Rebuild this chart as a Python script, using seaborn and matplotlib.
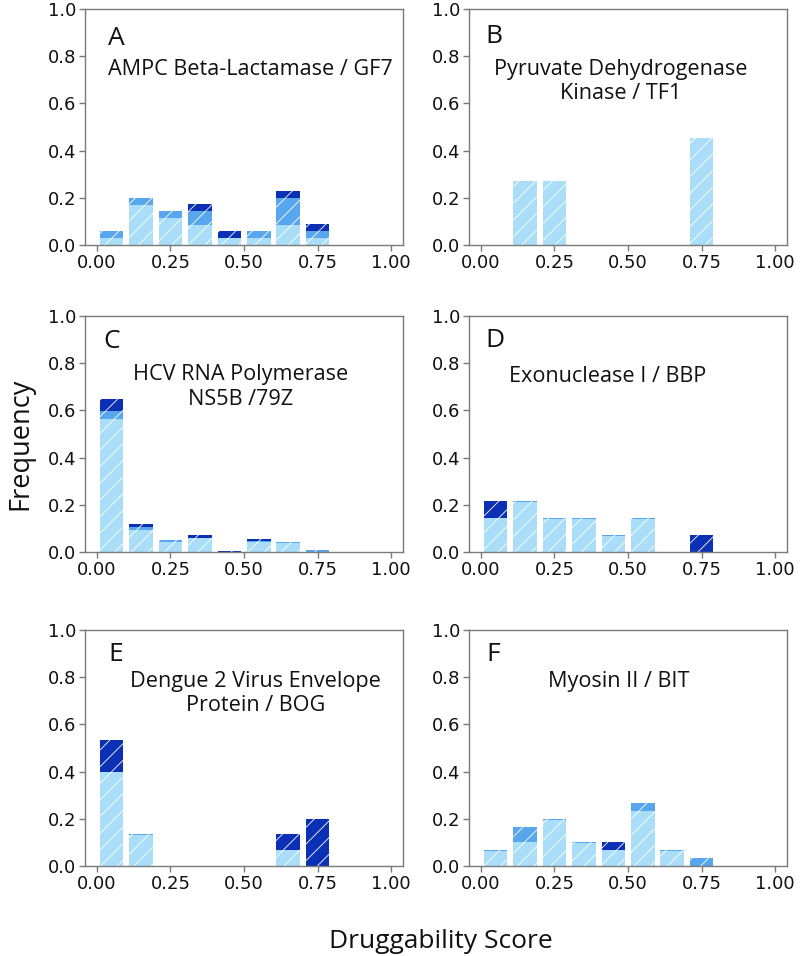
import numpy as np
import pandas as pd
import matplotlib
matplotlib.use("Agg")
import matplotlib.pyplot as plt
import seaborn as sns

# ---------------- data ----------------
bin_centers = [0.05, 0.15, 0.25, 0.35, 0.45, 0.55, 0.65, 0.75]

A_light = [0.029, 0.171, 0.114, 0.086, 0.029, 0.029, 0.086, 0.029]
A_mid   = [0.029, 0.029, 0.029, 0.057, 0.000, 0.029, 0.114, 0.029]
A_dark  = [0.000, 0.000, 0.000, 0.029, 0.029, 0.000, 0.029, 0.029]

B_light = [0.000, 0.273, 0.273, 0.000, 0.000, 0.000, 0.000, 0.455]
B_mid   = [0.000, 0.000, 0.000, 0.000, 0.000, 0.000, 0.000, 0.000]
B_dark  = [0.000, 0.000, 0.000, 0.000, 0.000, 0.000, 0.000, 0.000]

C_light = [0.562, 0.094, 0.043, 0.060, 0.000, 0.044, 0.037, 0.000]
C_mid   = [0.036, 0.012, 0.006, 0.000, 0.000, 0.004, 0.004, 0.007]
C_dark  = [0.049, 0.012, 0.000, 0.010, 0.006, 0.007, 0.000, 0.000]

D_light = [0.143, 0.211, 0.140, 0.140, 0.068, 0.140, 0.000, 0.000]
D_mid   = [0.000, 0.004, 0.004, 0.004, 0.004, 0.004, 0.000, 0.000]
D_dark  = [0.071, 0.000, 0.000, 0.000, 0.000, 0.000, 0.000, 0.071]

E_light = [0.400, 0.130, 0.000, 0.000, 0.000, 0.000, 0.067, 0.000]
E_mid   = [0.000, 0.004, 0.000, 0.000, 0.000, 0.000, 0.000, 0.000]
E_dark  = [0.133, 0.000, 0.000, 0.000, 0.000, 0.000, 0.067, 0.200]

F_light = [0.064, 0.100, 0.197, 0.097, 0.067, 0.233, 0.064, 0.000]
F_mid   = [0.004, 0.067, 0.004, 0.004, 0.000, 0.033, 0.004, 0.033]
F_dark  = [0.000, 0.000, 0.000, 0.000, 0.033, 0.000, 0.000, 0.000]

panel_letters = ["A", "B", "C", "D", "E", "F"]
panel_titles = [
    "AMPC Beta-Lactamase / GF7",
    "Pyruvate Dehydrogenase\nKinase / TF1",
    "HCV RNA Polymerase\nNS5B /79Z",
    "Exonuclease I / BBP",
    "Dengue 2 Virus Envelope\nProtein / BOG",
    "Myosin II / BIT",
]
x_ticks = [0.00, 0.25, 0.50, 0.75, 1.00]
x_ticklabels = ["0.00", "0.25", "0.50", "0.75", "1.00"]
y_ticks = [0.0, 0.2, 0.4, 0.6, 0.8, 1.0]
y_ticklabels = ["0.0", "0.2", "0.4", "0.6", "0.8", "1.0"]

panels = [
    (A_light, A_mid, A_dark),
    (B_light, B_mid, B_dark),
    (C_light, C_mid, C_dark),
    (D_light, D_mid, D_dark),
    (E_light, E_mid, E_dark),
    (F_light, F_mid, F_dark),
]

# ---------------- style ----------------
sns.set_style("ticks")
plt.rcParams["font.family"] = ["DejaVu Sans"]
plt.rcParams["hatch.color"] = "white"
plt.rcParams["hatch.linewidth"] = 0.6
label_font = ["Open Sans", "DejaVu Sans"]

c_light = "#a9ddf8"
c_mid = "#58a7ee"
c_dark = "#0b2fb5"
frame_col = "#7a7a7a"

fig = plt.figure(figsize=(8.0, 9.56), dpi=100)

col_left = [85 / 800, 469 / 800]
ax_w = 318 / 800
row_bottom = [1 - 245 / 956, 1 - 552 / 956, 1 - 866 / 956]
ax_h = 236 / 956

# text placement (axes fraction)
letter_pos = [(0.073, 0.93), (0.05, 0.935), (0.057, 0.945), (0.05, 0.95), (0.073, 0.95), (0.054, 0.95)]
title_pos = [(0.073, 0.79, "left"), (0.478, 0.79, "center"), (0.49, 0.795, "center"),
             (0.126, 0.79, "left"), (0.536, 0.828, "center"), (0.47, 0.828, "center")]

for i, (light, mid, dark) in enumerate(panels):
    r, c = divmod(i, 2)
    ax = fig.add_axes([col_left[c], row_bottom[r], ax_w, ax_h])
    light = np.array(light)
    mid = np.array(mid)
    dark = np.array(dark)
    layers = [
        (light + mid + dark, c_dark),
        (light + mid, c_mid),
        (light, c_light),
    ]
    for heights, col in layers:
        df = pd.DataFrame({"score": bin_centers, "freq": heights})
        sns.barplot(data=df, x="score", y="freq", ax=ax, native_scale=True,
                    color=col, saturation=1, width=0.8, errorbar=None,
                    edgecolor="white", linewidth=0, hatch="//")
    ax.set_xlim(-0.04, 1.04)
    ax.set_ylim(0, 1.0)
    ax.set_xticks(x_ticks)
    ax.set_xticklabels(x_ticklabels, fontsize=13, family="DejaVu Sans")
    ax.set_yticks(y_ticks)
    ax.set_yticklabels(y_ticklabels, fontsize=13, family="DejaVu Sans")
    ax.tick_params(axis="both", color=frame_col, labelcolor="#111111",
                   length=4, width=1, pad=2.5)
    ax.set_xlabel("")
    ax.set_ylabel("")
    for sp in ax.spines.values():
        sp.set_visible(True)
        sp.set_color(frame_col)
        sp.set_linewidth(1.0)

    lx, ly = letter_pos[i]
    ax.text(lx, ly, panel_letters[i], transform=ax.transAxes, fontsize=19,
            family=label_font, ha="left", va="top", color="#111111")
    tx, ty, ha = title_pos[i]
    ax.text(tx, ty, panel_titles[i], transform=ax.transAxes, fontsize=15.6,
            family=label_font, ha=ha, va="top", multialignment="center",
            linespacing=1.2, color="#111111")

fig.text(0.025, 1 - 444 / 956, "Frequency", rotation=90, ha="center", va="center",
         fontsize=19.5, family=label_font, color="#111111")
fig.text(0.551, 1 - 948 / 956, "Druggability Score", ha="center", va="baseline",
         fontsize=19, family=label_font, color="#111111")

fig.savefig("out.png", dpi=100)
